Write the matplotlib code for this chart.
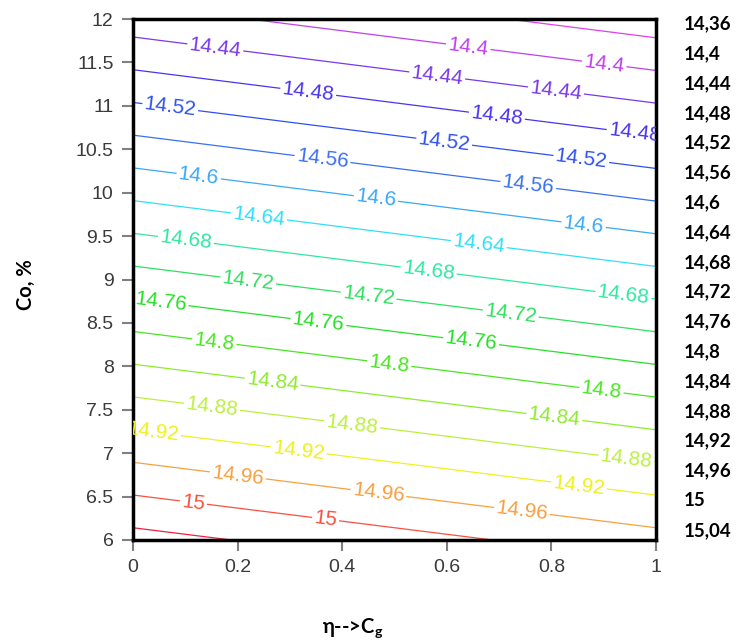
import numpy as np
import matplotlib
matplotlib.use('Agg')
import matplotlib.pyplot as plt

# corner values of the (planar) response surface
eta = [0.0, 1.0]
co = [6.0, 12.0]
z = [[15.055, 14.975],   # Co = 6
     [14.418, 14.337]]   # Co = 12

levels = [14.36, 14.40, 14.44, 14.48, 14.52, 14.56, 14.60, 14.64, 14.68,
          14.72, 14.76, 14.80, 14.84, 14.88, 14.92, 14.96, 15.00, 15.04]
level_text = ['14,36', '14,4', '14,44', '14,48', '14,52', '14,56', '14,6', '14,64',
              '14,68', '14,72', '14,76', '14,8', '14,84', '14,88', '14,92', '14,96',
              '15', '15,04']
colors = ['#e040f0', '#c040f0', '#7a38e8', '#4a34f0', '#3050f0', '#3a70f0',
          '#3aa8f8', '#30e0f8', '#30e8a0', '#30e060', '#28e028', '#48e820',
          '#90ea30', '#bcf040', '#f0f020', '#f8a040', '#f85040', '#f02040']

label_pos = [(0.157, 11.655), (0.582, 11.36), (0.808, 11.14),
             (0.64, 11.63), (0.90, 11.43),
             (0.335, 11.16), (0.695, 10.85), (0.958, 10.63),
             (0.07, 10.93), (0.594, 10.54), (0.856, 10.33),
             (0.362, 10.37), (0.755, 10.05),
             (0.125, 10.16), (0.464, 9.91), (0.86, 9.56),
             (0.24, 9.68), (0.66, 9.36),
             (0.10, 9.41), (0.565, 9.08), (0.937, 8.79),
             (0.22, 8.97), (0.45, 8.79), (0.722, 8.59),
             (0.052, 8.71), (0.354, 8.49), (0.646, 8.26),
             (0.155, 8.26), (0.489, 8.0), (0.895, 7.69),
             (0.266, 7.78), (0.805, 7.38),
             (0.151, 7.53), (0.418, 7.30), (0.943, 6.91),
             (0.038, 7.22), (0.316, 7.0), (0.852, 6.60),
             (0.20, 6.72), (0.469, 6.52), (0.743, 6.30),
             (0.115, 6.41), (0.368, 6.23)]

plt.rcParams['font.family'] = 'Liberation Sans'

fig = plt.figure(figsize=(7.39, 6.44), dpi=100)
ax = fig.add_axes([133/739, 1-540/644, 523/739, 521/644])

X, Y = np.meshgrid(eta, co)
cs = ax.contour(X, Y, np.array(z), levels=levels, colors=colors, linewidths=0.9)
ax.clabel(cs, manual=label_pos, inline=True, inline_spacing=2, fmt='%g', fontsize=15)

ax.set_xlim(0, 1)
ax.set_ylim(6, 12)
ax.set_xticks([0, 0.2, 0.4, 0.6, 0.8, 1])
ax.set_xticklabels(['0', '0.2', '0.4', '0.6', '0.8', '1'])
ax.set_yticks(np.arange(6, 12.1, 0.5))
ax.set_yticklabels(['6', '6.5', '7', '7.5', '8', '8.5', '9', '9.5', '10', '10.5', '11', '11.5', '12'])
for sp in ax.spines.values():
    sp.set_linewidth(2.5)
ax.tick_params(direction='out', length=8, width=1.5, color='#808080',
               labelcolor='#3a3a3a', labelsize=14, pad=6)

fig.text(353/739, 1-628/644, r'η-->C$_\mathregular{g}$', ha='center', va='center',
         fontsize=14.5, fontweight='bold', family='Lato')
fig.text(26/739, 1-285/644, 'Co, %', ha='center', va='center', rotation=90,
         fontsize=14.5, fontweight='bold', family='Lato')

for i, t in enumerate(level_text):
    fig.text(684/739, 1-(24 + i*29.8)/644, t, ha='left', va='center',
             fontsize=13.5, fontweight='bold', family='Lato')

fig.savefig('out.png', dpi=100)
